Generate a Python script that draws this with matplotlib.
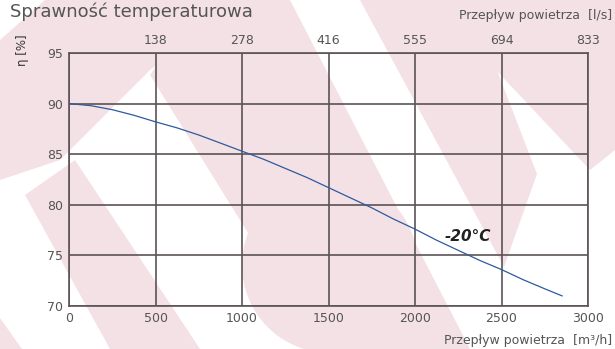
import numpy as np
import matplotlib
matplotlib.use('Agg')
import matplotlib.pyplot as plt
from matplotlib.patches import Polygon, Circle

# flow in m3/h and efficiency in %
flow = [0, 125, 250, 375, 500, 625, 750, 875, 1000, 1125, 1250, 1375,
        1500, 1625, 1750, 1875, 2000, 2125, 2250, 2375, 2500, 2625, 2750, 2850]
eta = [90.0, 89.8, 89.4, 88.85, 88.2, 87.6, 86.9, 86.1, 85.3, 84.5, 83.6, 82.7,
       81.7, 80.7, 79.7, 78.6, 77.6, 76.5, 75.5, 74.5, 73.6, 72.6, 71.7, 71.0]

x_ticks = [0, 500, 1000, 1500, 2000, 2500, 3000]
y_ticks = [70, 75, 80, 85, 90, 95]
ls_labels = ['138', '278', '416', '555', '694', '833']

pink = '#f4e1e6'
grid_col = '#5b5357'
txt_col = '#555555'

fig = plt.figure(figsize=(6.15, 3.49), dpi=100)

# background watermark, pixel coords
bg = fig.add_axes([0, 0, 1, 1], zorder=-1)
bg.set_xlim(0, 615)
bg.set_ylim(349, 0)
bg.axis('off')
shapes = [
    [(0, 40), (45, 0), (250, 0), (150, 70), (60, 160), (0, 180)],
    [(200, 0), (290, 0), (470, 349), (320, 349), (150, 75)],
    [(25, 195), (75, 160), (200, 349), (110, 349)],
    [(0, 318), (0, 349), (22, 349)],
    [(360, 0), (470, 0), (537, 174), (504, 267)],
    [(430, 0), (615, 0), (615, 150), (590, 170)],
]
for s in shapes:
    bg.add_patch(Polygon(s, closed=True, fc=pink, ec='none'))
bg.add_patch(Circle((330, 265), 88, fc=pink, ec='none'))

ax = fig.add_axes([0.1122, 0.1232, 0.8439, 0.7249])
ax.set_facecolor('none')
ax.plot(flow, eta, color='#2d5b9c', lw=0.9)
ax.set_xlim(0, 3000)
ax.set_ylim(70, 95)
ax.set_xticks(x_ticks)
ax.set_yticks(y_ticks)
ax.grid(True, color=grid_col, lw=1.2)
for sp in ax.spines.values():
    sp.set_color(grid_col)
    sp.set_linewidth(1.2)
ax.tick_params(length=0, labelsize=9, colors=txt_col, pad=4)

top = ax.twiny()
top.set_xlim(0, 3000)
top.set_xticks(x_ticks[1:])
top.set_xticklabels(ls_labels)
top.tick_params(length=0, labelsize=9, colors=txt_col, pad=4)
for sp in top.spines.values():
    sp.set_visible(False)

ax.text(2306, 76.9, '-20°C', fontsize=11, fontweight='bold', fontstyle='italic',
        color='#222222', ha='center', va='center')

fig.text(0.016, 0.965, 'Sprawność temperaturowa', fontsize=13, color=txt_col,
         ha='left', va='center')
fig.text(0.995, 0.957, 'Przepływ powietrza  [l/s]', fontsize=9, color=txt_col,
         ha='right', va='center')
fig.text(0.995, 0.025, 'Przepływ powietrza  [m³/h]', fontsize=9, color=txt_col,
         ha='right', va='center')
fig.text(0.036, 0.857, 'η [%]', fontsize=8.5, color='#333333', rotation=90,
         ha='center', va='center')

fig.savefig('out.png', dpi=100)
